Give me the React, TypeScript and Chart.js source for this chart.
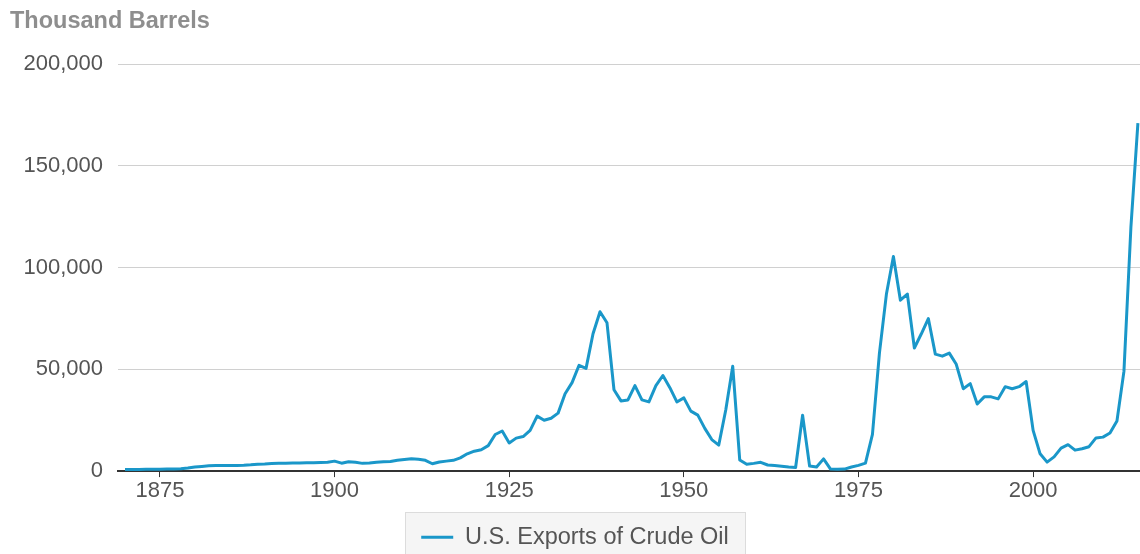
import React, { useEffect, useRef } from "react";
import { Chart, registerables } from "chart.js";

Chart.register(...registerables);

const START_YEAR = 1870;
// U.S. exports of crude oil, thousand barrels, 1870–2015
const EXPORTS: number[] = [
  800, 800, 800, 900, 900, 900, 1000, 1000, 1100, 1500, // 1870-1879
  2000, 2300, 2600, 2800, 2800, 2800, 2800, 2900, 3100, 3400, // 1880-1889
  3500, 3700, 3800, 3900, 4000, 4000, 4100, 4100, 4200, 4300, // 1890-1899
  4900, 3900, 4600, 4300, 3800, 4000, 4400, 4600, 4700, 5300, // 1900-1909
  5700, 6100, 5800, 5300, 3600, 4500, 4900, 5300, 6500, 8500, // 1910-1919
  9800, 10500, 12500, 18000, 19700, 13800, 16200, 17000, 20000, 27000, // 1920-1929
  25000, 26000, 28500, 38000, 43500, 52000, 50500, 67500, 78300, 72900, // 1930-1939
  40000, 34500, 35000, 42000, 35000, 34000, 42000, 47000, 41000, 34000, // 1940-1949
  36000, 29500, 27500, 21000, 15500, 12800, 30000, 51500, 5500, 3400, // 1950-1959
  3800, 4300, 3000, 2700, 2400, 2000, 1800, 27500, 2500, 2000, // 1960-1969
  6000, 1000, 900, 1000, 2000, 2800, 3900, 18000, 58000, 87000, // 1970-1979
  105500, 84000, 87000, 60500, 67500, 75000, 57500, 56500, 58000, 52500, // 1980-1989
  40500, 43000, 33000, 36500, 36500, 35500, 41500, 40500, 41500, 44000, // 1990-1999
  20000, 8500, 4400, 7000, 11300, 13000, 10300, 11000, 12000, 16300, // 2000-2009
  16700, 18700, 24600, 49000, 120000, 171000, // 2010-2015
];
const YEARS: number[] = EXPORTS.map((_, i) => START_YEAR + i);
const X_TICKS: number[] = [1875, 1900, 1925, 1950, 1975, 2000];
const Y_TICKS: number[] = [0, 50000, 100000, 150000, 200000];
const SERIES_LABEL = "U.S. Exports of Crude Oil";
const Y_TITLE = "Thousand Barrels";

const LINE_COLOR = "#1a97c9";
const FONT = "'Liberation Sans', Arial, Helvetica, sans-serif";

const legendBoxPlugin = {
  id: "legendBox",
  beforeDraw(chart: any) {
    const lg = chart.legend;
    if (!lg || !lg.legendHitBoxes || !lg.legendHitBoxes.length) return;
    const hb = lg.legendHitBoxes[0];
    const ctx = chart.ctx;
    const x0 = Math.round(hb.left - 16);
    const x1 = Math.round(hb.left + hb.width + 17);
    const cy = hb.top + hb.height / 2;
    const y0 = Math.round(cy - 25);
    ctx.save();
    ctx.fillStyle = "#f5f5f5";
    ctx.fillRect(x0, y0, x1 - x0, chart.height - y0 + 5);
    ctx.strokeStyle = "#dcdcdc";
    ctx.lineWidth = 1;
    ctx.strokeRect(x0 + 0.5, y0 + 0.5, x1 - x0 - 1, chart.height - y0 + 5);
    ctx.restore();
  },
};

export default function App() {
  const ref = useRef<HTMLCanvasElement | null>(null);

  useEffect(() => {
    if (!ref.current) return;
    const chart = new Chart(ref.current, {
      type: "line",
      data: {
        datasets: [
          {
            label: SERIES_LABEL,
            data: YEARS.map((y, i) => ({ x: y, y: EXPORTS[i] })),
            borderColor: LINE_COLOR,
            backgroundColor: LINE_COLOR,
            borderWidth: 3,
            pointRadius: 0,
            pointHoverRadius: 0,
            tension: 0,
            fill: false,
            pointStyle: "line",
            borderJoinStyle: "round",
          },
        ],
      },
      options: {
        animation: false,
        responsive: true,
        maintainAspectRatio: false,
        layout: { padding: { left: 10, right: 0, top: 0, bottom: -5 } },
        plugins: {
          title: {
            display: true,
            text: Y_TITLE,
            align: "start",
            color: "#8e8e8e",
            font: { family: FONT, size: 23.5, weight: "bold" },
            padding: { top: 7, bottom: 29 },
          },
          legend: {
            display: true,
            position: "bottom",
            labels: {
              usePointStyle: true,
              pointStyle: "line",
              pointStyleWidth: 32,
              color: "#555555",
              font: { family: FONT, size: 23.5 },
              padding: 20,
            },
          },
          tooltip: { enabled: false },
        },
        scales: {
          x: {
            type: "linear",
            min: 1869,
            max: 2015.3,
            afterBuildTicks: (scale: any) => {
              scale.ticks = X_TICKS.map((v) => ({ value: v }));
            },
            ticks: {
              color: "#555555",
              font: { family: FONT, size: 22 },
              padding: 1,
              maxRotation: 0,
              autoSkip: false,
              callback: (v: any) => String(v),
            },
            grid: {
              display: true,
              drawOnChartArea: false,
              drawTicks: true,
              tickLength: 6,
              color: "#333333",
              lineWidth: 1,
            },
            border: { display: true, color: "#333333", width: 2 },
          },
          y: {
            min: 0,
            max: 200000,
            afterBuildTicks: (scale: any) => {
              scale.ticks = Y_TICKS.map((v) => ({ value: v }));
            },
            afterFit: (scale: any) => {
              scale.width = 108;
            },
            ticks: {
              color: "#555555",
              font: { family: FONT, size: 22 },
              padding: 15,
              callback: (v: any) => Number(v).toLocaleString("en-US"),
            },
            grid: {
              color: "#d0d0d0",
              lineWidth: 1,
              drawTicks: false,
            },
            border: { display: false },
          },
        },
      },
      plugins: [legendBoxPlugin],
    });
    return () => chart.destroy();
  }, []);

  return (
    <div
      style={{
        position: "fixed",
        left: 0,
        top: 0,
        width: 1140,
        height: 554,
        background: "#ffffff",
      }}
    >
      <canvas ref={ref} />
    </div>
  );
}
